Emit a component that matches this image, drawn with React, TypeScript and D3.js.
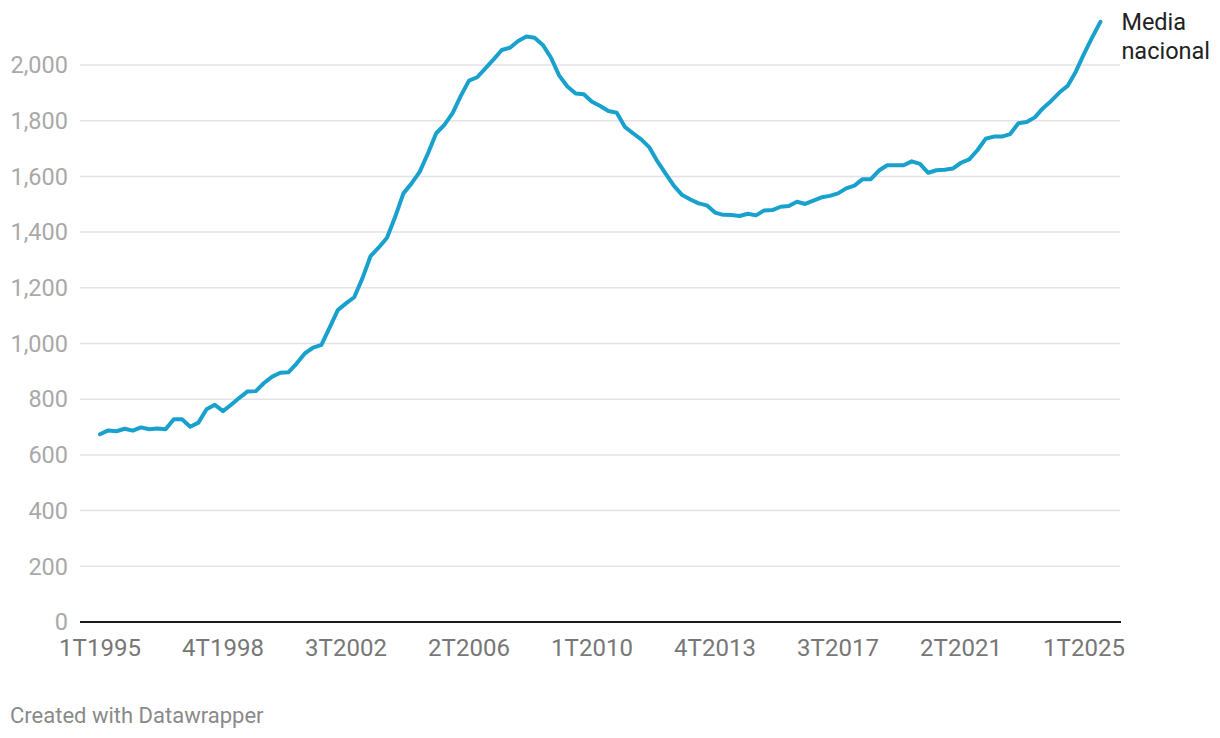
import React from "react";
import * as d3 from "d3";

const values: number[] = [
  674, 688, 685, 694, 687, 699, 692, 695, 692, 728,
  728, 701, 716, 764, 780, 757, 780, 805, 828, 829,
  858, 881, 895, 897, 929, 965, 985, 995, 1057, 1120,
  1144, 1166, 1234, 1314, 1345, 1380, 1455, 1539, 1575, 1617,
  1683, 1755, 1785, 1827, 1889, 1944, 1956, 1988, 2020, 2054,
  2062, 2086, 2102, 2098, 2072, 2026, 1962, 1923, 1898, 1895,
  1868, 1853, 1835, 1829, 1778, 1755, 1733, 1704, 1653, 1609,
  1566, 1533, 1517, 1503, 1496, 1470, 1462, 1461, 1458, 1466,
  1460, 1478, 1479, 1491, 1494, 1509, 1501, 1513, 1525, 1530,
  1539, 1557, 1567, 1590, 1590, 1621, 1640, 1640, 1640, 1654,
  1645, 1613, 1622, 1624, 1628, 1649, 1661, 1694, 1735, 1743,
  1743, 1752, 1791, 1795, 1812, 1845, 1871, 1901, 1925, 1976,
  2040, 2099, 2155,
];

const startYear = 1995;
const quarters: string[] = values.map((_, i) => `${(i % 4) + 1}T${startYear + Math.floor(i / 4)}`);
const xTickLabels: string[] = ["1T1995", "4T1998", "3T2002", "2T2006", "1T2010", "4T2013", "3T2017", "2T2021", "1T2025"];
const yTicks: number[] = [0, 200, 400, 600, 800, 1000, 1200, 1400, 1600, 1800, 2000];
const seriesLabel: string[] = ["Media", "nacional"];

export default function App() {
  const W = 1220;
  const H = 738;
  const x = d3.scaleLinear().domain([0, values.length - 1]).range([100, 1100.4]);
  const y = d3.scaleLinear().domain([0, 2000]).range([622, 65]);
  const line = d3
    .line<number>()
    .x((_, i) => x(i))
    .y((d) => y(d))
    .curve(d3.curveLinear);
  const fmt = d3.format(",");
  const font = "Roboto, 'Noto Sans', sans-serif";
  const last = values.length - 1;

  return (
    <div style={{ position: "absolute", left: 0, top: 0, background: "#fff" }}>
      <svg width={W} height={H} style={{ display: "block", fontFamily: font }}>
        <rect width={W} height={H} fill="#fff" />
        {yTicks.map((t) =>
          t === 0 ? null : (
            <line key={t} x1={80} x2={1120} y1={y(t)} y2={y(t)} stroke="#e3e3e3" strokeWidth={1.5} />
          )
        )}
        {yTicks.map((t) => (
          <text
            key={"l" + t}
            x={68}
            y={y(t)}
            dy="0.35em"
            textAnchor="end"
            fontSize={23.5}
            fill="#a9a9a9"
          >
            {fmt(t)}
          </text>
        ))}
        <line x1={80} x2={1121} y1={y(0)} y2={y(0)} stroke="#1a1a1a" strokeWidth={2} />
        {xTickLabels.map((lab) => {
          const i = quarters.indexOf(lab);
          return (
            <text key={lab} x={x(i)} y={648} dy="0.35em" textAnchor="middle" fontSize={24} fill="#777">
              {lab}
            </text>
          );
        })}
        <path
          d={line(values) || ""}
          fill="none"
          stroke="#18a1cd"
          strokeWidth={4}
          strokeLinejoin="round"
          strokeLinecap="round"
        />
        <text x={x(last) + 21} y={22} dy="0.35em" fontSize={23.5} fill="#222">
          {seriesLabel[0]}
        </text>
        <text x={x(last) + 21} y={51} dy="0.35em" fontSize={23.5} fill="#222">
          {seriesLabel[1]}
        </text>
        <text x={10} y={715} dy="0.35em" fontSize={22} fill="#8a8a8a">
          Created with Datawrapper
        </text>
      </svg>
    </div>
  );
}
